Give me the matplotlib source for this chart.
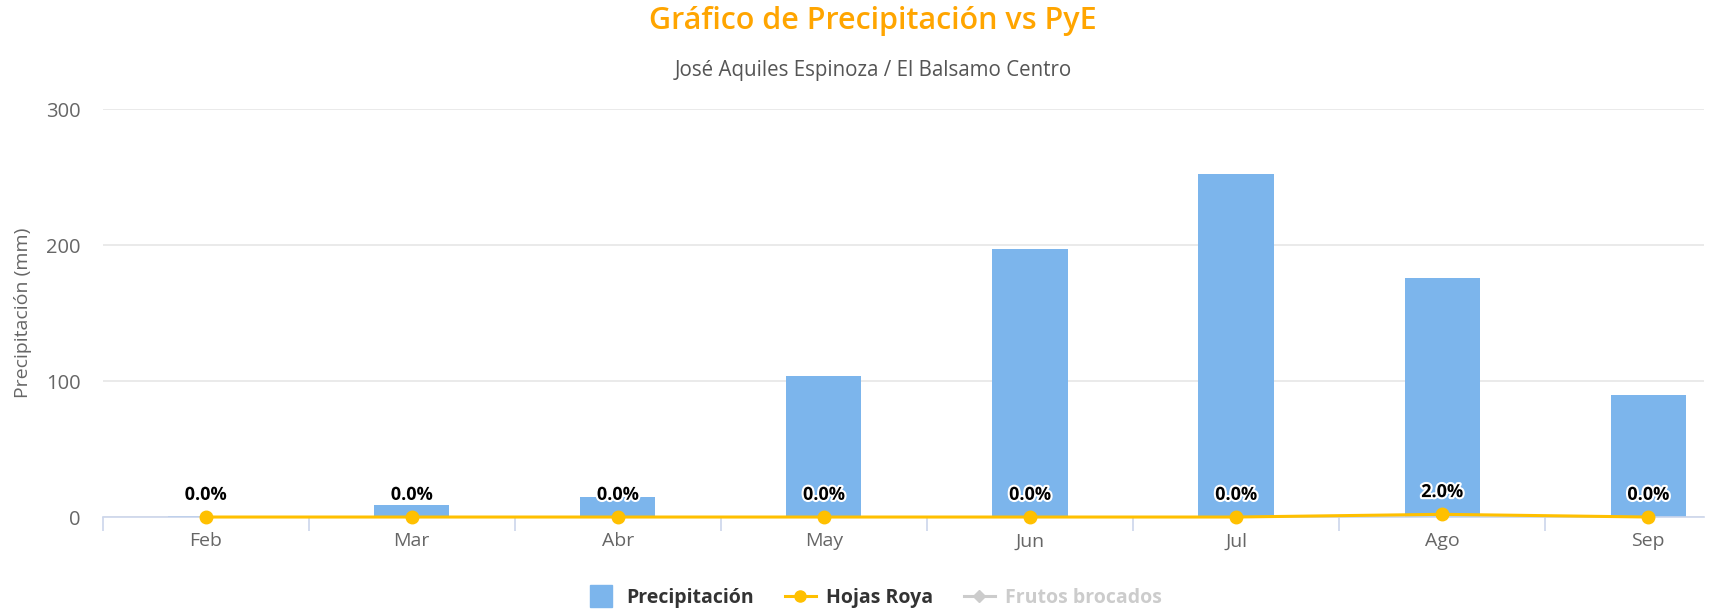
import matplotlib
matplotlib.use("Agg")
import matplotlib.pyplot as plt
from matplotlib.lines import Line2D
import matplotlib.patheffects as pe

plt.rcParams['font.family'] = ['Open Sans', 'DejaVu Sans']

# Data
months = ['Feb', 'Mar', 'Abr', 'May', 'Jun', 'Jul', 'Ago', 'Sep']
precipitacion = [1, 9, 15, 104, 197, 252, 176, 90]
hojas_roya = [0.0, 0.0, 0.0, 0.0, 0.0, 0.0, 2.0, 0.0]
y_ticks = [0, 100, 200, 300]

bar_color = '#7cb5ec'
line_color = '#ffc000'
grid_color = '#e6e6e6'
axis_color = '#ccd6eb'
text_grey = '#666666'

fig = plt.figure(figsize=(17.09, 6.11), dpi=100)
ax = fig.add_axes([0.06, 0.1538, 0.937, 0.6677])

x = list(range(len(months)))
ax.bar(x, precipitacion, width=0.365, color=bar_color, zorder=2)
ax.plot(x, hojas_roya, color=line_color, lw=2.2, marker='o', markersize=9,
        zorder=3, clip_on=False)

for xi, v in zip(x, hojas_roya):
    ax.annotate(f'{v:.1f}%', (xi, v), xytext=(0, 16), textcoords='offset points',
                ha='center', va='center', fontsize=13, fontweight='bold',
                color='black', zorder=4,
                path_effects=[pe.withStroke(linewidth=3, foreground='white')])

ax.set_yticks(y_ticks)
ax.set_yticklabels([str(t) for t in y_ticks])
ax.set_xticks(x)
ax.set_xticklabels(months)
ax.set_xticks([i - 0.5 for i in range(len(months) + 1)], minor=True)
ax.set_xlim(-0.5, 7.27)
ax.set_ylim(0, 300)

ax.tick_params(axis='y', length=0, pad=16, labelsize=14.5, labelcolor=text_grey)
ax.tick_params(axis='x', which='major', length=0, pad=11, labelsize=14,
               labelcolor=text_grey)
ax.tick_params(axis='x', which='minor', length=10, width=1.2, color=axis_color)

ax.grid(axis='y', color=grid_color, lw=1.2, zorder=0)
ax.set_axisbelow(True)
for s in ['top', 'right', 'left']:
    ax.spines[s].set_visible(False)
ax.spines['bottom'].set_color(axis_color)
ax.spines['bottom'].set_linewidth(1.2)

ax.set_ylabel('Precipitación (mm)', fontsize=14, color=text_grey)
ax.yaxis.set_label_coords(-0.044, 0.5)

fig.text(0.511, 0.965, 'Gráfico de Precipitación vs PyE', ha='center', va='center',
         fontsize=22, color='#ffa500', fontweight='semibold')
fig.text(0.511, 0.884, 'José Aquiles Espinoza / El Balsamo Centro', ha='center',
         va='center', fontsize=14.8, color='#555555')

handles = [
    Line2D([], [], linestyle='none', marker='s', markersize=16, color=bar_color),
    Line2D([], [], color=line_color, lw=2.2, marker='o', markersize=8),
    Line2D([], [], color='#cccccc', lw=2.2, marker='D', markersize=6),
]
labels = ['Precipitación', 'Hojas Roya', 'Frutos brocados']
leg = fig.legend(handles, labels, loc='center', bbox_to_anchor=(0.511, 0.021),
                 ncol=3, frameon=False, handlelength=1.6, columnspacing=1.6,
                 handletextpad=0.5, prop={'weight': 'bold', 'size': 14})
for t, c in zip(leg.get_texts(), ['#333333', '#333333', '#cccccc']):
    t.set_color(c)

fig.savefig('out.png', dpi=100)
